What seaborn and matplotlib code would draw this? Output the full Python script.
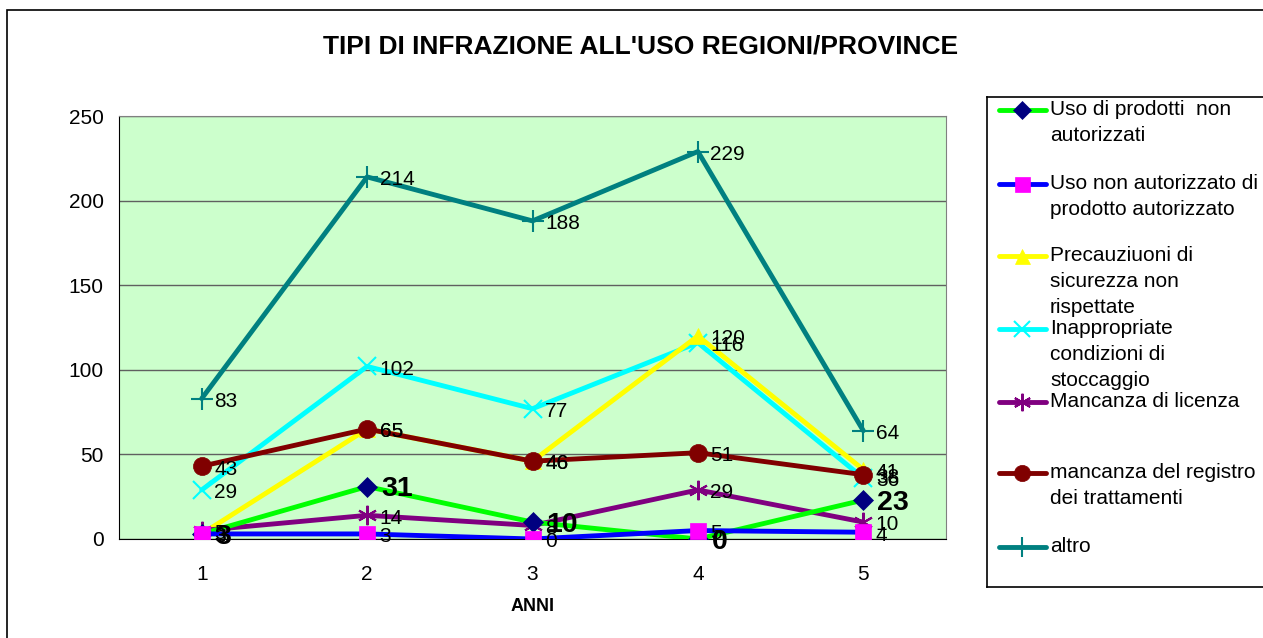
import numpy as np
import pandas as pd
import matplotlib
matplotlib.use("Agg")
import matplotlib.pyplot as plt
from matplotlib.patches import Rectangle
import seaborn as sns

# data
anni = [1, 2, 3, 4, 5]
uso_prodotti_non_aut = [3, 31, 10, 0, 23]
uso_non_aut_prodotto_aut = [3, 3, 0, 5, 4]
precauzioni = [3, 65, 46, 120, 41]
stoccaggio = [29, 102, 77, 116, 36]
licenza = [5, 14, 8, 29, 10]
registro = [43, 65, 46, 51, 38]
altro = [83, 214, 188, 229, 64]

names = ["Uso di prodotti  non\nautorizzati",
         "Uso non autorizzato di\nprodotto autorizzato",
         "Precauziuoni di\nsicurezza non\nrispettate",
         "Inappropriate\ncondizioni di\nstoccaggio",
         "Mancanza di licenza",
         "mancanza del registro\ndei trattamenti",
         "altro"]
values = [uso_prodotti_non_aut, uso_non_aut_prodotto_aut, precauzioni,
          stoccaggio, licenza, registro, altro]

line_colors = ["#00FF00", "#0000FF", "#FFFF00", "#00FFFF", "#800080", "#800000", "#008080"]
marker_colors = ["#000080", "#FF00FF", "#FFFF00", "#00FFFF", "#800080", "#800000", "#008080"]
markers = ["D", "s", "^", "x", (6, 2, 0), "o", "+"]
msizes = [10, 12, 12, 13, 14, 13, 16]

sns.set_style("white")
plt.rcParams['font.family'] = ['Liberation Sans', 'DejaVu Sans']
plt.rcParams['text.color'] = 'black'
plt.rcParams['axes.labelcolor'] = 'black'
plt.rcParams['xtick.color'] = 'black'
plt.rcParams['ytick.color'] = 'black'

fig = plt.figure(figsize=(12.63, 6.38), dpi=100)
W, H = 1263, 638

# outer chart border
fig.patches.append(Rectangle((7 / W, -0.1), 1.2, 1.1 - 10 / H, transform=fig.transFigure,
                             fill=False, edgecolor="black", linewidth=1.2))

ax = fig.add_axes([119 / W, 1 - 539 / H, (946 - 119) / W, (539 - 116) / H])
ax.set_facecolor("#CCFFCC")

# draw order so the small series stay visible
order = [6, 3, 2, 5, 4, 0, 1]
for i in order:
    df = pd.DataFrame({"anno": anni, "val": values[i]})
    sns.lineplot(data=df, x="anno", y="val", ax=ax, color=line_colors[i], linewidth=3.5,
                 marker=markers[i], markersize=msizes[i], markerfacecolor=marker_colors[i],
                 markeredgecolor=marker_colors[i], markeredgewidth=1.5 if i in (3, 4, 6) else 0.5,
                 legend=False, zorder=3)

for i in range(7):
    for x, v in zip(anni, values[i]):
        if i == 0:
            ax.annotate(str(v), (x, v), xytext=(10, -2), textcoords="offset points",
                        va="center", ha="left", fontsize=20.5, fontweight="bold",
                        color="black", zorder=5)
        else:
            ax.annotate(str(v), (x, v), xytext=(9, -2), textcoords="offset points",
                        va="center", ha="left", fontsize=15, color="black", zorder=5)

ax.set_xlim(0.5, 5.5)
ax.set_ylim(0, 250)
ax.set_yticks([0, 50, 100, 150, 200, 250])
ax.set_xticks(anni)
ax.set_xticks([1.5, 2.5, 3.5, 4.5], minor=True)
ax.tick_params(axis="x", which="major", length=0, labelsize=15, pad=19)
ax.tick_params(axis="x", which="minor", length=6, direction="out", color="black")
ax.tick_params(axis="y", length=5, direction="out", color="black", labelsize=15, pad=6)
ax.grid(axis="y", color="#606060", linewidth=1, zorder=0)
ax.set_axisbelow(True)
for s in ["top", "right"]:
    ax.spines[s].set_color("#808080")
for s in ["left", "bottom"]:
    ax.spines[s].set_color("black")
ax.set_xlabel("ANNI", fontsize=13, fontweight="bold", labelpad=10)
ax.set_ylabel("")

fig.text(641 / W, 1 - 47 / H, "TIPI DI INFRAZIONE ALL'USO REGIONI/PROVINCE",
         ha="center", va="center", fontsize=19, fontweight="bold")

# legend box
lax = fig.add_axes([987 / W, 1 - 587 / H, 400 / W, (587 - 97) / H])
lax.set_xlim(987, 1387)
lax.set_ylim(587, 97)
lax.set_xticks([])
lax.set_yticks([])
lax.set_facecolor("white")
for s in lax.spines.values():
    s.set_color("black")
    s.set_linewidth(1.2)
entry_y = [110, 184, 256, 329, 402, 473, 547]
for i, yy in enumerate(entry_y):
    lax.plot([999, 1046], [yy, yy], color=line_colors[i], linewidth=3.5, solid_capstyle="round")
    lax.plot([1022], [yy], marker=markers[i], markersize=msizes[i] * 0.9,
             markerfacecolor=marker_colors[i], markeredgecolor=marker_colors[i],
             markeredgewidth=1.5 if i in (3, 4, 6) else 0.5, linestyle="none")
    lax.text(1050, yy - 10, names[i], ha="left", va="top", fontsize=15, linespacing=1.48)

fig.savefig("out.png", dpi=100)
